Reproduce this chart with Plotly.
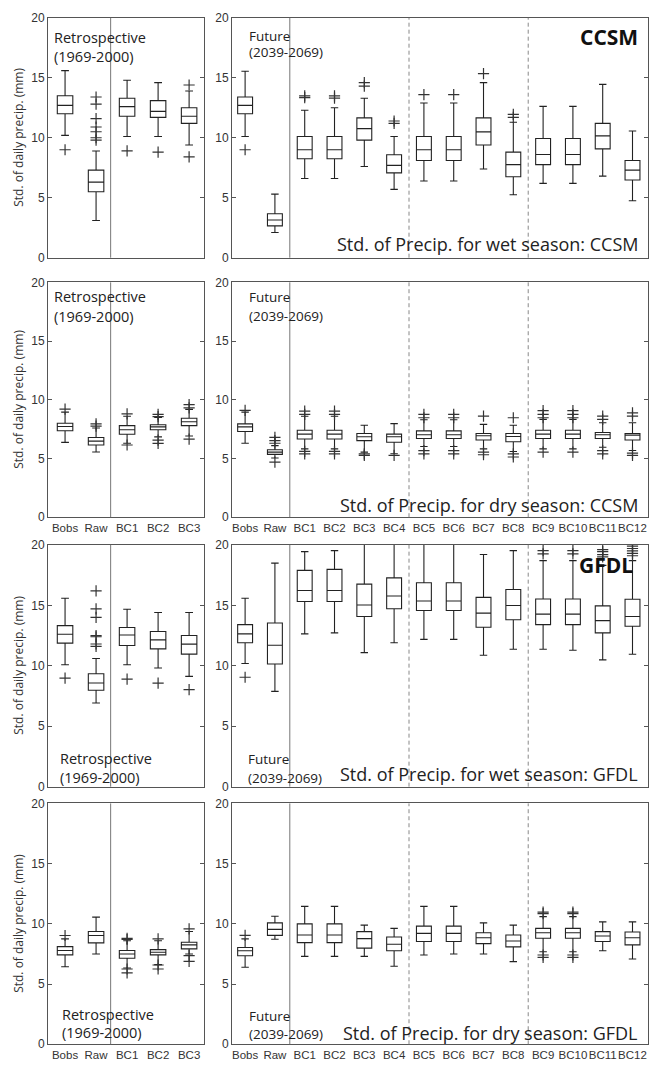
import plotly.graph_objects as go

W, H = 661, 1069

cats_retro = ["Bobs", "Raw", "BC1", "BC2", "BC3"]
cats_future = ["Bobs", "Raw", "BC1", "BC2", "BC3", "BC4", "BC5", "BC6",
               "BC7", "BC8", "BC9", "BC10", "BC11", "BC12"]
y_ticks = [0, 5, 10, 15, 20]

# ---- Row 1: CCSM wet season ----
ccsm_wet_retro_lo = [10.2, 3.1, 10.1, 10.1, 9.4]
ccsm_wet_retro_q1 = [12.0, 5.5, 11.8, 11.7, 11.2]
ccsm_wet_retro_med = [12.7, 6.3, 12.6, 12.2, 11.8]
ccsm_wet_retro_q3 = [13.5, 7.3, 13.3, 13.1, 12.5]
ccsm_wet_retro_hi = [15.6, 8.9, 14.8, 14.6, 13.9]
ccsm_wet_retro_out = [[9.0], [9.8, 10.0, 10.5, 10.9, 11.6, 12.8, 13.4], [8.9], [8.8], [8.4, 14.4]]

ccsm_wet_fut_lo = [10.1, 2.1, 6.6, 6.6, 7.6, 5.7, 6.4, 6.4, 7.4, 5.25, 6.2, 6.2, 6.8, 4.75]
ccsm_wet_fut_q1 = [12.0, 2.65, 8.25, 8.25, 9.8, 7.07, 8.1, 8.1, 9.4, 6.75, 7.76, 7.76, 9.07, 6.48]
ccsm_wet_fut_med = [12.7, 3.14, 9.0, 9.0, 10.76, 7.7, 9.0, 9.0, 10.49, 7.76, 8.6, 8.6, 10.16, 7.3]
ccsm_wet_fut_q3 = [13.4, 3.66, 10.1, 10.1, 11.66, 8.58, 10.1, 10.1, 11.66, 8.8, 9.94, 9.94, 11.2, 8.11]
ccsm_wet_fut_hi = [15.55, 5.3, 12.3, 12.5, 13.3, 10.1, 12.9, 12.9, 14.6, 11.3, 12.62, 12.62, 14.45, 10.57]
ccsm_wet_fut_out = [[9.0], [], [13.35, 13.5], [13.3, 13.5], [14.3, 14.6], [11.2, 11.4], [13.6], [13.6],
                    [15.35], [11.7, 11.95], [], [], [], []]

# ---- Row 2: CCSM dry season ----
ccsm_dry_retro_lo = [6.37, 5.55, 6.3, 6.84, 6.92]
ccsm_dry_retro_q1 = [7.36, 6.15, 7.06, 7.45, 7.8]
ccsm_dry_retro_med = [7.72, 6.48, 7.45, 7.69, 8.13]
ccsm_dry_retro_q3 = [8.0, 6.79, 7.8, 7.88, 8.43]
ccsm_dry_retro_hi = [8.95, 7.6, 8.6, 8.5, 9.18]
ccsm_dry_retro_out = [[9.2], [7.75, 7.95], [8.8, 6.15], [8.57, 8.76, 6.57, 6.29], [9.31, 9.59, 6.65]]

ccsm_dry_fut_lo = [6.3, 5.04, 5.82, 5.82, 5.54, 5.4, 6.02, 6.02, 5.82, 5.6, 5.82, 5.82, 5.96, 5.68]
ccsm_dry_fut_q1 = [7.3, 5.35, 6.66, 6.66, 6.52, 6.38, 6.71, 6.71, 6.57, 6.43, 6.71, 6.71, 6.71, 6.57]
ccsm_dry_fut_med = [7.69, 5.54, 7.08, 7.08, 6.85, 6.85, 7.02, 7.02, 6.94, 6.88, 7.08, 7.08, 7.02, 6.99]
ccsm_dry_fut_q3 = [7.95, 5.74, 7.41, 7.41, 7.13, 7.08, 7.35, 7.35, 7.13, 7.13, 7.41, 7.41, 7.21, 7.13]
ccsm_dry_fut_hi = [8.95, 6.1, 8.6, 8.6, 7.83, 7.97, 8.3, 8.3, 7.91, 7.83, 8.33, 8.33, 8.05, 8.05]
ccsm_dry_fut_out = [[9.1], [6.3, 6.52, 6.8, 4.7], [8.75, 9.03, 5.6, 5.4], [8.75, 9.03, 5.6, 5.4],
                    [5.4, 5.26], [5.26], [8.47, 8.75, 5.68, 5.4], [8.47, 8.75, 5.68, 5.4],
                    [8.61, 5.54, 5.32], [8.47, 5.4, 5.13], [8.47, 8.75, 9.08, 5.54],
                    [8.47, 8.75, 9.08, 5.54], [8.33, 8.61, 5.68, 5.4], [8.61, 8.89, 5.46, 5.26]]

# ---- Row 3: GFDL wet season ----
gfdl_wet_retro_lo = [10.08, 6.92, 10.08, 9.81, 9.12]
gfdl_wet_retro_q1 = [11.87, 7.97, 11.68, 11.4, 10.96]
gfdl_wet_retro_med = [12.61, 8.57, 12.55, 12.14, 11.79]
gfdl_wet_retro_q3 = [13.32, 9.34, 13.16, 12.83, 12.5]
gfdl_wet_retro_hi = [15.58, 10.6, 14.67, 14.4, 14.4]
gfdl_wet_retro_out = [[8.98], [11.6, 11.8, 12.4, 12.5, 14.0, 14.7, 16.2], [8.9], [8.57], [8.02]]

gfdl_wet_fut_lo = [10.19, 7.88, 12.64, 12.72, 11.09, 11.9, 12.18, 12.18, 10.87, 11.36, 11.36, 11.28, 10.49, 10.95]
gfdl_wet_fut_q1 = [11.9, 10.14, 15.31, 15.31, 14.08, 14.71, 14.57, 14.57, 13.18, 13.81, 13.4, 13.4, 12.72, 13.27]
gfdl_wet_fut_med = [12.64, 11.69, 16.23, 16.23, 15.03, 15.77, 15.36, 15.36, 14.35, 14.98, 14.27, 14.27, 13.73, 14.08]
gfdl_wet_fut_q3 = [13.4, 13.54, 17.89, 17.97, 16.75, 17.27, 16.86, 16.86, 15.66, 16.31, 15.52, 15.52, 14.95, 15.5]
gfdl_wet_fut_hi = [15.58, 18.49, 19.44, 19.52, 20.5, 20.5, 20.5, 20.5, 19.2, 19.52, 18.7, 18.7, 18.3, 18.7]
gfdl_wet_fut_out = [[9.05], [], [], [], [], [], [], [], [], [], [19.25, 19.52], [19.25, 19.52],
                    [19.0, 19.2, 19.44, 19.6], [19.1, 19.3, 19.5, 19.7, 19.9]]

# ---- Row 4: GFDL dry season ----
gfdl_dry_retro_lo = [6.44, 7.5, 6.33, 6.61, 7.5]
gfdl_dry_retro_q1 = [7.42, 8.42, 7.14, 7.42, 7.92]
gfdl_dry_retro_med = [7.78, 9.03, 7.5, 7.64, 8.25]
gfdl_dry_retro_q3 = [8.11, 9.36, 7.78, 7.86, 8.47]
gfdl_dry_retro_hi = [8.75, 10.56, 8.6, 8.6, 9.36]
gfdl_dry_retro_out = [[9.03], [], [8.7, 8.8, 6.25, 5.92], [8.75, 6.58, 6.25], [9.58, 7.36, 6.89]]

gfdl_dry_fut_lo = [6.4, 8.72, 7.3, 7.3, 7.3, 6.48, 7.41, 7.49, 7.49, 6.86, 7.68, 7.68, 7.76, 7.08]
gfdl_dry_fut_q1 = [7.35, 9.04, 8.44, 8.44, 7.98, 7.76, 8.53, 8.53, 8.36, 8.09, 8.8, 8.8, 8.53, 8.25]
gfdl_dry_fut_med = [7.76, 9.54, 9.07, 9.07, 8.77, 8.31, 9.21, 9.21, 8.85, 8.58, 9.26, 9.26, 8.99, 8.85]
gfdl_dry_fut_q3 = [8.04, 10.08, 10.0, 10.0, 9.35, 8.91, 9.81, 9.81, 9.26, 9.07, 9.62, 9.62, 9.35, 9.32]
gfdl_dry_fut_hi = [8.75, 10.63, 11.45, 11.45, 9.89, 9.62, 11.45, 11.45, 10.08, 9.89, 10.6, 10.6, 10.16, 10.16]
gfdl_dry_fut_out = [[9.04], [], [], [], [], [], [], [], [], [], [10.85, 10.98, 7.41, 7.22],
                    [10.85, 10.98, 7.41, 7.22], [], []]

panel_titles = ["Std. of Precip. for wet season: CCSM", "Std. of Precip. for dry season: CCSM",
                "Std. of Precip. for wet season: GFDL", "Std. of Precip. for dry season: GFDL"]
model_labels = ["CCSM", "", "GFDL", ""]
y_title = "Std. of daily precip. (mm)"

# ---------------- layout geometry (pixels) ----------------
LEFT_X = (48, 204)
RIGHT_X = (232, 648)
ROWS_Y = [(11, 254), (279, 517), (545, 790), (807, 1051)]


def px(x):
    return x / W


def py(y):
    return 1 - y / H


panels = [
    (cats_retro, ccsm_wet_retro_lo, ccsm_wet_retro_q1, ccsm_wet_retro_med, ccsm_wet_retro_q3, ccsm_wet_retro_hi, ccsm_wet_retro_out),
    (cats_future, ccsm_wet_fut_lo, ccsm_wet_fut_q1, ccsm_wet_fut_med, ccsm_wet_fut_q3, ccsm_wet_fut_hi, ccsm_wet_fut_out),
    (cats_retro, ccsm_dry_retro_lo, ccsm_dry_retro_q1, ccsm_dry_retro_med, ccsm_dry_retro_q3, ccsm_dry_retro_hi, ccsm_dry_retro_out),
    (cats_future, ccsm_dry_fut_lo, ccsm_dry_fut_q1, ccsm_dry_fut_med, ccsm_dry_fut_q3, ccsm_dry_fut_hi, ccsm_dry_fut_out),
    (cats_retro, gfdl_wet_retro_lo, gfdl_wet_retro_q1, gfdl_wet_retro_med, gfdl_wet_retro_q3, gfdl_wet_retro_hi, gfdl_wet_retro_out),
    (cats_future, gfdl_wet_fut_lo, gfdl_wet_fut_q1, gfdl_wet_fut_med, gfdl_wet_fut_q3, gfdl_wet_fut_hi, gfdl_wet_fut_out),
    (cats_retro, gfdl_dry_retro_lo, gfdl_dry_retro_q1, gfdl_dry_retro_med, gfdl_dry_retro_q3, gfdl_dry_retro_hi, gfdl_dry_retro_out),
    (cats_future, gfdl_dry_fut_lo, gfdl_dry_fut_q1, gfdl_dry_fut_med, gfdl_dry_fut_q3, gfdl_dry_fut_hi, gfdl_dry_fut_out),
]

BOX_COLOR = "#222222"
AXIS_COLOR = "#555555"
TICK_FONT = dict(family="Liberation Sans, Arial", size=12, color="#333333")
XTICK_FONT = dict(family="Liberation Sans, Arial", size=11.5, color="#333333")
TEXT_FONT = "Open Sans, Noto Sans"

fig = go.Figure()
layout = dict(width=W, height=H, margin=dict(l=0, r=0, t=0, b=0),
              paper_bgcolor="white", plot_bgcolor="white", showlegend=False)
shapes = []
annotations = []

for i, (cats, lo, q1, med, q3, hi, out) in enumerate(panels):
    n = i + 1
    xa = "x" if n == 1 else f"x{n}"
    ya = "y" if n == 1 else f"y{n}"
    row = i // 2
    is_left = (i % 2 == 0)
    xdom = LEFT_X if is_left else RIGHT_X
    ytop, ybot = ROWS_Y[row]

    fig.add_trace(go.Box(
        x=cats, q1=q1, median=med, q3=q3, lowerfence=lo, upperfence=hi,
        xaxis=xa, yaxis=ya, width=0.5, whiskerwidth=0.5,
        line=dict(color=BOX_COLOR, width=1.1), fillcolor="rgba(0,0,0,0)",
        hoverinfo="skip", showlegend=False))

    ox, oy = [], []
    for c, vals in zip(cats, out):
        for v in vals:
            ox.append(c)
            oy.append(v)
    fig.add_trace(go.Scatter(
        x=ox, y=oy, mode="markers", xaxis=xa, yaxis=ya,
        marker=dict(symbol="cross-thin", size=8, color="#333333",
                    line=dict(width=1.2, color="#333333")),
        hoverinfo="skip", showlegend=False))

    if is_left:
        xrange = [-0.55, 4.48]
    else:
        xrange = [-0.44, 13.52]
    show_xlabels = row in (1, 3)
    xkey = "xaxis" if n == 1 else f"xaxis{n}"
    ykey = "yaxis" if n == 1 else f"yaxis{n}"
    layout[xkey] = dict(domain=[px(xdom[0]), px(xdom[1])], anchor=ya,
                        type="category", categoryorder="array", categoryarray=cats,
                        range=xrange, showgrid=False, zeroline=False,
                        showline=True, mirror=True, linecolor=AXIS_COLOR, linewidth=1,
                        ticks="", showticklabels=show_xlabels, tickfont=XTICK_FONT,
                        tickangle=0, fixedrange=True)
    layout[ykey] = dict(domain=[py(ybot), py(ytop)], anchor=xa,
                        range=[0, 20], tickvals=y_ticks, showgrid=False, zeroline=False,
                        showline=True, mirror="ticks", linecolor=AXIS_COLOR, linewidth=1,
                        ticks="inside", ticklen=4, tickcolor=AXIS_COLOR,
                        tickfont=TICK_FONT, fixedrange=True)

    # separator lines
    xref = xa
    yref = f"{ya} domain"
    if is_left:
        shapes.append(dict(type="line", xref=xref, yref=yref, x0=1.47, x1=1.47, y0=0, y1=1,
                           line=dict(color="#777777", width=1)))
    else:
        shapes.append(dict(type="line", xref=xref, yref=yref, x0=1.5, x1=1.5, y0=0, y1=1,
                           line=dict(color="#777777", width=1)))
        for xv in (5.5, 9.5):
            shapes.append(dict(type="line", xref=xref, yref=yref, x0=xv, x1=xv, y0=0, y1=1,
                               line=dict(color="#888888", width=1, dash="4px,3px")))


def add_text(text, x, y, size, xanchor="left", bold=False, angle=0, color="#222222"):
    t = f"<b>{text}</b>" if bold else text
    annotations.append(dict(text=t, x=px(x), y=py(y), xref="paper", yref="paper",
                            xanchor=xanchor, yanchor="middle", showarrow=False,
                            textangle=angle,
                            font=dict(family=TEXT_FONT, size=size, color=color)))


RS = 14.5   # "Retrospective" label size
FS = 13.5   # "Future" label size
TS = 18     # panel title size

# y-axis titles
for (ytop, ybot) in ROWS_Y:
    add_text(y_title, 19, (ytop + ybot) / 2, 12, xanchor="center", angle=-90, color="#333333")

# row 1
add_text("Retrospective", 52, 31, RS)
add_text("(1969-2000)", 52, 50, RS)
add_text("Future", 247, 29, FS)
add_text("(2039-2069)", 247, 46, FS)
add_text(model_labels[0], 640, 30, 21, xanchor="right", bold=True, color="#111111")
add_text(panel_titles[0], 640, 240, TS, xanchor="right")
# row 2
add_text("Retrospective", 52, 293, RS)
add_text("(1969-2000)", 52, 314, RS)
add_text("Future", 247, 294, FS)
add_text("(2039-2069)", 247, 313, FS)
add_text(panel_titles[1], 640, 505, TS, xanchor="right")
# row 3
add_text("Retrospective", 58, 761, RS)
add_text("(1969-2000)", 58, 781, RS)
add_text("Future", 246, 762, FS)
add_text("(2039-2069)", 246, 781, FS)
add_text(model_labels[2], 635, 565, 21, xanchor="right", bold=True, color="#111111")
add_text(panel_titles[2], 640, 777, TS, xanchor="right")
# row 4
add_text("Retrospective", 60, 1021, RS)
add_text("(1969-2000)", 60, 1039, RS)
add_text("Future", 247, 1022, FS)
add_text("(2039-2069)", 247, 1041, FS)
add_text(panel_titles[3], 640, 1040, TS, xanchor="right")

layout["shapes"] = shapes
layout["annotations"] = annotations
fig.update_layout(**layout)
fig.write_html("out.html")
